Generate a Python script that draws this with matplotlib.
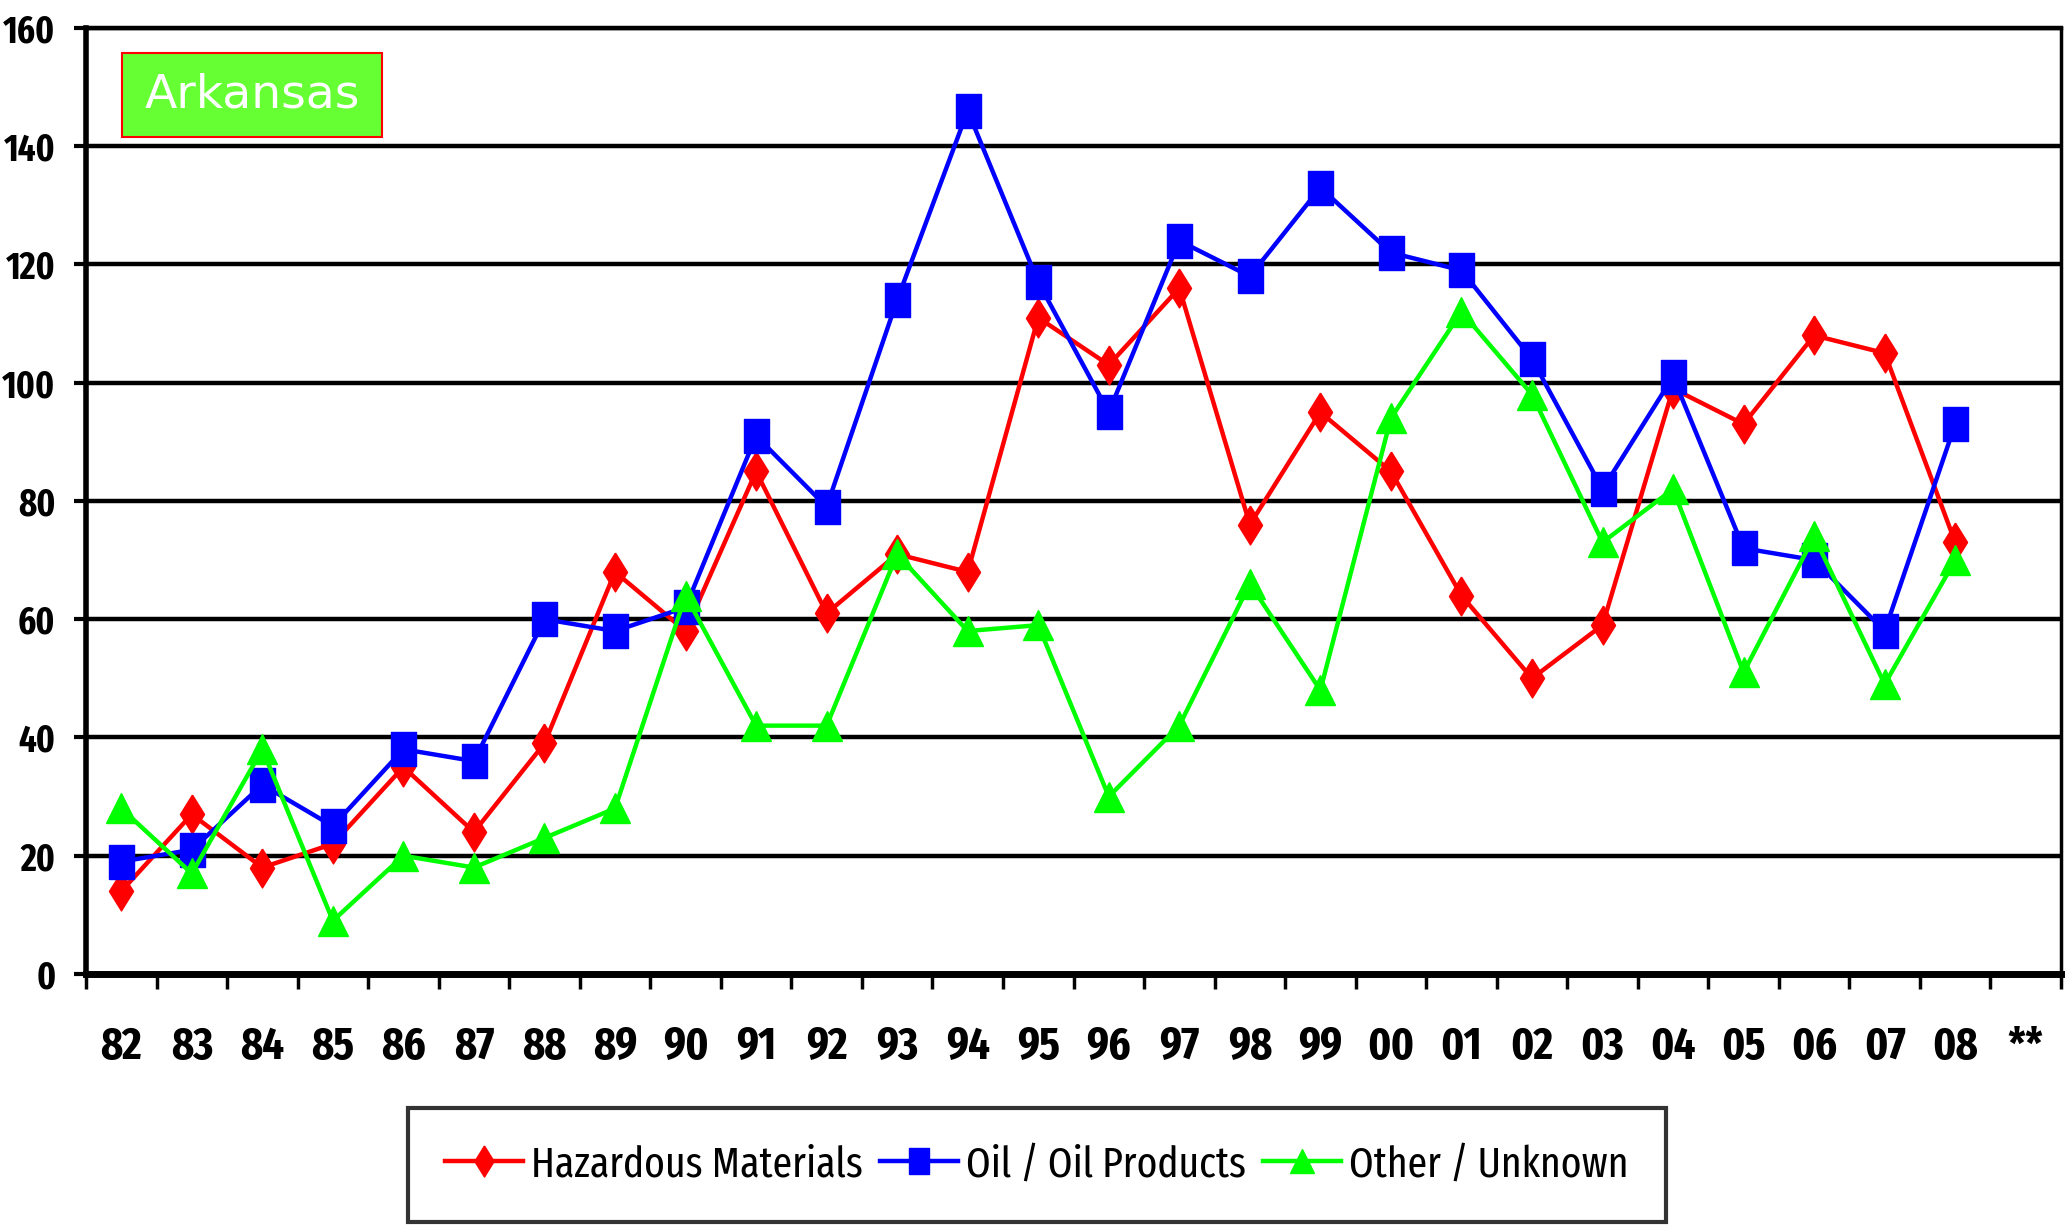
import matplotlib
matplotlib.use("Agg")
import matplotlib.pyplot as plt
from matplotlib.font_manager import FontProperties
from matplotlib.patches import Rectangle
import numpy as np

# --- Data ---
years = ["82", "83", "84", "85", "86", "87", "88", "89", "90", "91", "92", "93", "94",
         "95", "96", "97", "98", "99", "00", "01", "02", "03", "04", "05", "06", "07", "08"]
tick_labels = years + ["**"]

hazardous = [14, 27, 18, 22, 35, 24, 39, 68, 58, 85, 61, 71, 68,
             111, 103, 116, 76, 95, 85, 64, 50, 59, 99, 93, 108, 105, 73]
oil = [19, 21, 32, 25, 38, 36, 60, 58, 62, 91, 79, 114, 146,
       117, 95, 124, 118, 133, 122, 119, 104, 82, 101, 72, 70, 58, 93]
other = [28, 17, 38, 9, 20, 18, 23, 28, 64, 42, 42, 71, 58,
         59, 30, 42, 66, 48, 94, 112, 98, 73, 82, 51, 74, 49, 70]

series_names = ["Hazardous Materials", "Oil / Oil Products", "Other / Unknown"]
series_colors = ["#FF0000", "#0000FF", "#00FF00"]

# narrow face to get close to the squeezed look of the original
plt.rcParams['font.family'] = ['Fira Sans Extra Condensed', 'PT Sans Narrow',
                               'Liberation Sans', 'DejaVu Sans']

fig = plt.figure(figsize=(20.72, 12.31), dpi=100)
ax = fig.add_axes([0.0415, 0.2088, 0.9532, 0.7685])

# tall diamond / tall square like the stretched original
diamond = [(0, 1), (0.62, 0), (0, -1), (-0.62, 0), (0, 1)]
square = [(-0.75, -1), (0.75, -1), (0.75, 1), (-0.75, 1), (-0.75, -1)]

x = np.arange(len(years))
ax.plot(x, hazardous, color=series_colors[0], lw=3.2, marker=diamond, ms=28,
        mec=series_colors[0], label=series_names[0], zorder=3)
ax.plot(x, oil, color=series_colors[1], lw=3.2, marker=square, ms=24,
        mec=series_colors[1], label=series_names[1], zorder=4)
ax.plot(x, other, color=series_colors[2], lw=3.2, marker='^', ms=22,
        mec=series_colors[2], label=series_names[2], zorder=5)

# axes / grid
ax.set_xlim(-0.5, len(tick_labels) - 0.5)
ax.set_ylim(0, 160)
ax.set_yticks(np.arange(0, 161, 20))
ax.yaxis.grid(True, color='black', lw=3.2)
ax.set_axisbelow(True)

ax.set_xticks(np.arange(len(tick_labels) + 1) - 0.5)
ax.set_xticklabels([])
ax.set_xticks(np.arange(len(tick_labels)), minor=True)
ax.set_xticklabels(tick_labels, minor=True, fontsize=33, fontweight='bold')
ax.tick_params(axis='x', which='major', direction='out', length=11, width=2.5)
ax.tick_params(axis='x', which='minor', length=0, pad=37)
ax.tick_params(axis='y', direction='out', length=9, width=3, pad=13,
               labelsize=27)
for lab in ax.get_yticklabels():
    lab.set_fontweight('bold')

ax.spines['left'].set_linewidth(4)
ax.spines['bottom'].set_linewidth(5)
ax.spines['top'].set_linewidth(3.2)
ax.spines['right'].set_linewidth(2.5)

# state label box
ax.add_patch(Rectangle((0.018, 0.885), 0.132, 0.089, transform=ax.transAxes,
                       facecolor='#66FF33', edgecolor='#FF0000', lw=1.5, zorder=6))
ax.text(0.084, 0.929, "Arkansas", transform=ax.transAxes, ha='center', va='center',
        color='white', fontproperties=FontProperties(family='DejaVu Sans', size=34),
        zorder=7)

leg = fig.legend(loc='center', bbox_to_anchor=(0.5005, 0.0536), ncol=3,
                 fontsize=31, frameon=True, fancybox=False, edgecolor='black',
                 handlelength=1.8, handletextpad=0.2, columnspacing=0.4,
                 borderpad=0.85, markerscale=0.8)
leg.get_frame().set_linewidth(3)

fig.savefig("out.png", dpi=100, facecolor='white')
